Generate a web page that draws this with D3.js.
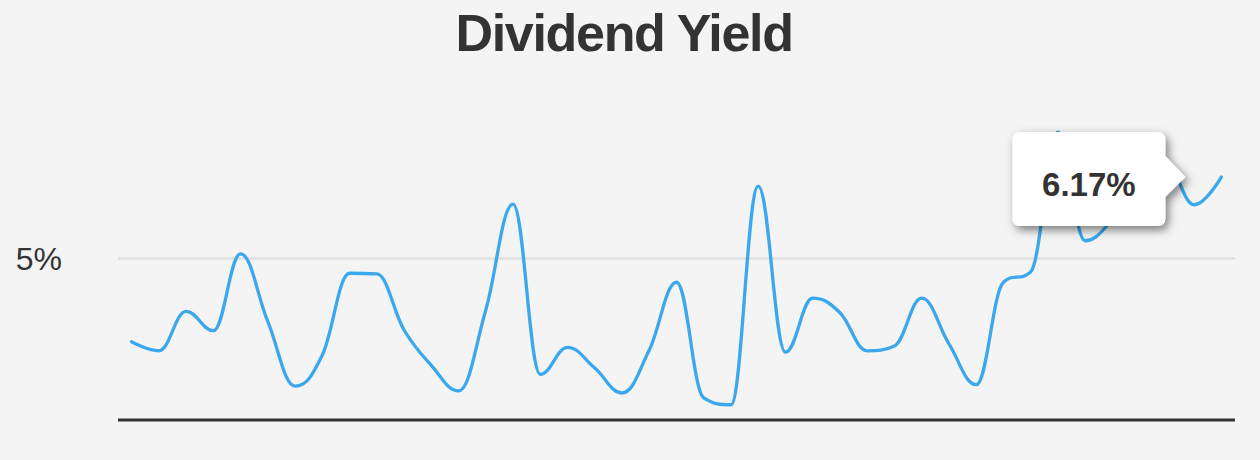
<!DOCTYPE html>
<html>
<head>
<meta charset="utf-8">
<script src="https://cdn.jsdelivr.net/npm/d3@7"></script>
<style>
  html, body { margin: 0; padding: 0; background: #f4f4f4; }
  svg { display: block; }
</style>
</head>
<body>
<svg id="chart" width="1260" height="460"></svg>
<script>
// ---- data ----
const categories = [
  "2014 Q1","2014 Q2","2014 Q3","2014 Q4","2015 Q1","2015 Q2","2015 Q3","2015 Q4",
  "2016 Q1","2016 Q2","2016 Q3","2016 Q4","2017 Q1","2017 Q2","2017 Q3","2017 Q4",
  "2018 Q1","2018 Q2","2018 Q3","2018 Q4","2019 Q1","2019 Q2","2019 Q3","2019 Q4",
  "2020 Q1","2020 Q2","2020 Q3","2020 Q4","2021 Q1","2021 Q2","2021 Q3","2021 Q4",
  "2022 Q1","2022 Q2","2022 Q3","2022 Q4","2023 Q1","2023 Q2","2023 Q3","2023 Q4",
  "2024 Q1"
];
const yieldValues = [
  3.79, 3.66, 4.23, 3.95, 5.06, 4.08, 3.15, 3.60, 4.78, 4.77,
  3.96, 3.45, 3.08, 4.25, 5.78, 3.32, 3.71, 3.41, 3.05, 3.67,
  4.65, 2.98, 2.88, 6.04, 3.64, 4.42, 4.21, 3.66, 3.73, 4.42,
  3.76, 3.17, 4.65, 4.80, 6.82, 5.25, 5.55, 6.05, 6.34, 5.77,
  6.17
];
const yTicks = [5];
const yTickLabels = ["5%"];
const titleText = "Dividend Yield";
const tooltipText = "6.17%";

// ---- layout ----
const svg = d3.select("#chart");
const W = 1260, H = 460;
const plot = { left: 118, right: 1235, top: 85, bottom: 420 };

svg.append("rect").attr("width", W).attr("height", H).attr("fill", "#f4f4f4");

const x = d3.scalePoint().domain(categories).range([plot.left, plot.right]).padding(0.5);
const y = d3.scaleLinear().domain([2.66, 7.5]).range([plot.bottom, plot.top]);

// title
svg.append("text")
  .attr("x", 624).attr("y", 51)
  .attr("text-anchor", "middle")
  .attr("font-family", "'Liberation Sans', Arial, Helvetica, sans-serif")
  .attr("font-weight", "bold")
  .attr("font-size", 52)
  .attr("letter-spacing", -1.3)
  .attr("fill", "#333333")
  .text(titleText);

// gridlines + labels
const yAxis = d3.axisLeft(y).tickValues(yTicks)
  .tickSize(-(plot.right - plot.left))
  .tickFormat((d, i) => yTickLabels[i]);
const gy = svg.append("g").attr("transform", `translate(${plot.left},0)`).call(yAxis);
gy.select(".domain").remove();
gy.selectAll(".tick line").attr("stroke", "#e0e0e0").attr("stroke-width", 2.5);
gy.selectAll(".tick text")
  .attr("x", -56).attr("dy", "0.36em")
  .attr("text-anchor", "end")
  .attr("font-family", "'Liberation Sans', Arial, Helvetica, sans-serif")
  .attr("font-size", 32)
  .attr("fill", "#333333");

// baseline (x axis)
const xAxis = d3.axisBottom(x).tickSize(0).tickFormat("");
const gx = svg.append("g").attr("transform", `translate(0,${plot.bottom})`).call(xAxis);
gx.select(".domain").attr("d", `M${plot.left},0H${plot.right}`)
  .attr("stroke", "#333333").attr("stroke-width", 3);
gx.selectAll(".tick").remove();

// Highcharts-like spline
function splinePath(pts) {
  const p = d3.path();
  const smoothing = 1.5, denom = smoothing + 1;
  const ctrl = pts.map((pt, i) => {
    const last = pts[i - 1], next = pts[i + 1];
    if (!last || !next) return null;
    let lx = (smoothing * pt[0] + last[0]) / denom;
    let ly = (smoothing * pt[1] + last[1]) / denom;
    let rx = (smoothing * pt[0] + next[0]) / denom;
    let ry = (smoothing * pt[1] + next[1]) / denom;
    if (rx !== lx) {
      const corr = ((ry - ly) * (rx - pt[0])) / (rx - lx) + pt[1] - ry;
      ly += corr; ry += corr;
    }
    if (ly > last[1] && ly > pt[1]) { ly = Math.max(last[1], pt[1]); ry = 2 * pt[1] - ly; }
    else if (ly < last[1] && ly < pt[1]) { ly = Math.min(last[1], pt[1]); ry = 2 * pt[1] - ly; }
    if (ry > next[1] && ry > pt[1]) { ry = Math.max(next[1], pt[1]); ly = 2 * pt[1] - ry; }
    else if (ry < next[1] && ry < pt[1]) { ry = Math.min(next[1], pt[1]); ly = 2 * pt[1] - ry; }
    return { lx, ly, rx, ry };
  });
  pts.forEach((pt, i) => {
    if (i === 0) { p.moveTo(pt[0], pt[1]); return; }
    const a = ctrl[i - 1], b = ctrl[i];
    const c1x = a ? a.rx : pts[i - 1][0], c1y = a ? a.ry : pts[i - 1][1];
    const c2x = b ? b.lx : pt[0], c2y = b ? b.ly : pt[1];
    p.bezierCurveTo(c1x, c1y, c2x, c2y, pt[0], pt[1]);
  });
  return p.toString();
}

const pts = yieldValues.map((v, i) => [x(categories[i]), y(v)]);
svg.append("path")
  .attr("d", splinePath(pts))
  .attr("fill", "none")
  .attr("stroke", "#3ba8ee")
  .attr("stroke-width", 3.3)
  .attr("stroke-linejoin", "round")
  .attr("stroke-linecap", "round");

// tooltip
const defs = svg.append("defs");
const f = defs.append("filter").attr("id", "shadow")
  .attr("x", "-20%").attr("y", "-20%").attr("width", "150%").attr("height", "160%");
f.append("feDropShadow").attr("dx", 3).attr("dy", 4).attr("stdDeviation", 5)
  .attr("flood-color", "#000").attr("flood-opacity", 0.5);

const lastIdx = yieldValues.length - 1;
const tipX = x(categories[lastIdx]) - 36;
const tipY = y(yieldValues[lastIdx]);
const bx1 = tipX - 20, bx0 = bx1 - 153;
const by0 = tipY - 45, by1 = by0 + 94;
const r = 8;
const tp = d3.path();
tp.moveTo(bx0 + r, by0);
tp.lineTo(bx1 - r, by0);
tp.quadraticCurveTo(bx1, by0, bx1, by0 + r);
tp.lineTo(bx1, tipY - 21);
tp.lineTo(tipX, tipY);
tp.lineTo(bx1, tipY + 20);
tp.lineTo(bx1, by1 - r);
tp.quadraticCurveTo(bx1, by1, bx1 - r, by1);
tp.lineTo(bx0 + r, by1);
tp.quadraticCurveTo(bx0, by1, bx0, by1 - r);
tp.lineTo(bx0, by0 + r);
tp.quadraticCurveTo(bx0, by0, bx0 + r, by0);
tp.closePath();
svg.append("path").attr("d", tp.toString())
  .attr("fill", "#ffffff").attr("filter", "url(#shadow)");

svg.append("text")
  .attr("x", (bx0 + bx1) / 2).attr("y", tipY + 19)
  .attr("text-anchor", "middle")
  .attr("font-family", "'Liberation Sans', Arial, Helvetica, sans-serif")
  .attr("font-weight", "bold")
  .attr("font-size", 33)
  .attr("fill", "#333333")
  .text(tooltipText);
</script>
</body>
</html>
